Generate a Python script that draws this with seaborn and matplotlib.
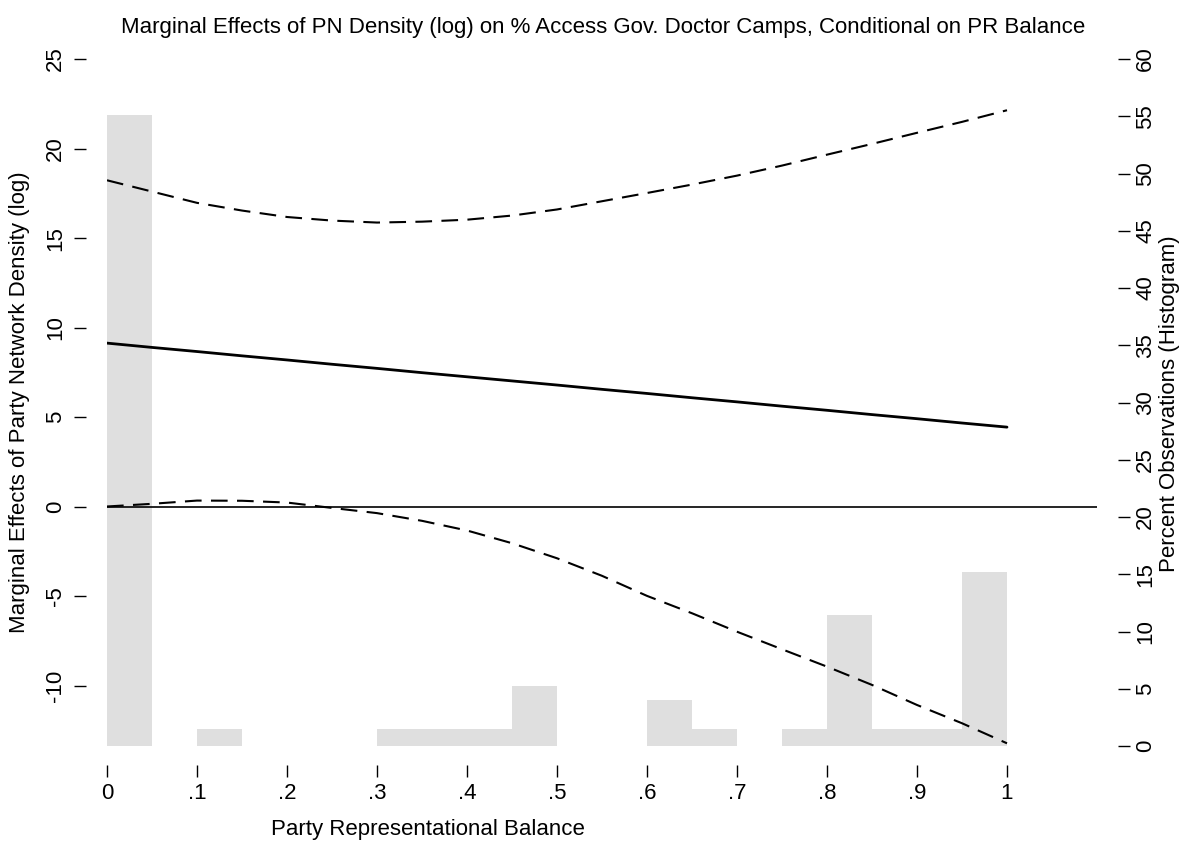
import numpy as np
import pandas as pd
import matplotlib
matplotlib.use("Agg")
import matplotlib.pyplot as plt
import seaborn as sns

# ---- data ----
balance = [0.00, 0.05, 0.10, 0.15, 0.20, 0.25, 0.30, 0.35, 0.40, 0.45, 0.50,
           0.55, 0.60, 0.65, 0.70, 0.75, 0.80, 0.85, 0.90, 0.95, 1.00]
marg_eff = [9.14, 8.90, 8.67, 8.43, 8.20, 7.96, 7.73, 7.49, 7.26, 7.03, 6.80,
            6.56, 6.33, 6.09, 5.86, 5.62, 5.39, 5.15, 4.92, 4.68, 4.45]
upper_ci = [18.23, 17.60, 16.97, 16.54, 16.18, 15.98, 15.87, 15.92, 16.03, 16.26, 16.60,
            17.06, 17.52, 17.99, 18.49, 19.05, 19.66, 20.26, 20.88, 21.49, 22.14]
lower_ci = [0.02, 0.17, 0.35, 0.34, 0.24, -0.06, -0.35, -0.78, -1.32, -2.03, -2.87,
            -3.85, -4.97, -5.94, -6.97, -7.95, -8.92, -9.94, -11.06, -12.08, -13.20]

hist_bin_left = [0.00, 0.10, 0.30, 0.35, 0.40, 0.45, 0.60, 0.65, 0.75, 0.80, 0.85, 0.90, 0.95]
hist_percent = [55.1, 1.5, 1.5, 1.5, 1.5, 5.2, 4.0, 1.5, 1.5, 11.4, 1.5, 1.5, 15.2]

left_ticks = [-10, -5, 0, 5, 10, 15, 20, 25]
right_ticks = [0, 5, 10, 15, 20, 25, 30, 35, 40, 45, 50, 55, 60]
x_ticks = [0, 0.1, 0.2, 0.3, 0.4, 0.5, 0.6, 0.7, 0.8, 0.9, 1.0]
x_ticklabels = ["0", ".1", ".2", ".3", ".4", ".5", ".6", ".7", ".8", ".9", "1"]

title = "Marginal Effects of PN Density (log) on % Access Gov. Doctor Camps, Conditional on PR Balance"
xlabel = "Party Representational Balance"
ylabel_left = "Marginal Effects of Party Network Density (log)"
ylabel_right = "Percent Observations (Histogram)"

# ---- styling ----
sns.set_theme(style="white")
plt.rcParams['font.family'] = ['Liberation Sans', 'DejaVu Sans']
plt.rcParams['text.color'] = 'black'
plt.rcParams['xtick.color'] = 'black'
plt.rcParams['ytick.color'] = 'black'
plt.rcParams['axes.labelcolor'] = 'black'
FS = 16

W, H = 1182, 844
fig = plt.figure(figsize=(W / 100, H / 100), dpi=100)
L, R, B, T = 107, 1097, 746, 59
ax = fig.add_axes([L / W, 1 - B / H, (R - L) / W, (B - T) / H])
ax2 = ax.twinx()

# histogram on the secondary axis (behind)
hist_df = pd.DataFrame({"x": np.array(hist_bin_left) + 0.025, "w": hist_percent})
sns.histplot(data=hist_df, x="x", weights="w", binwidth=0.05, binrange=(0, 1),
             ax=ax2, color="#dfdfdf", alpha=1, edgecolor="none", linewidth=0)

df = pd.DataFrame({"balance": balance, "me": marg_eff, "up": upper_ci, "lo": lower_ci})
sns.lineplot(data=df, x="balance", y="me", ax=ax, color="black", lw=2.0)
sns.lineplot(data=df, x="balance", y="up", ax=ax, color="black", lw=1.5)
sns.lineplot(data=df, x="balance", y="lo", ax=ax, color="black", lw=1.5)
for line in ax.get_lines()[1:]:
    line.set_dashes((8, 4.5))
ax.axhline(0, color="black", lw=1.2)

ax.set_zorder(ax2.get_zorder() + 1)
ax.patch.set_visible(False)

ax.set_xlim(0, 1.1)
ax.set_ylim(-13.35, 25)
ax2.set_ylim(0, 60)

for a in (ax, ax2):
    for s in a.spines.values():
        s.set_visible(False)
ax.spines['left'].set_position(('outward', 15))
ax.spines['bottom'].set_position(('outward', 13.7))
ax2.spines['right'].set_position(('outward', 15))

ax.set_xticks(x_ticks)
ax.set_xticklabels(x_ticklabels, fontsize=FS)
ax.set_yticks(left_ticks)
ax.set_yticklabels([str(t) for t in left_ticks], fontsize=FS, rotation=90, va="center")
ax2.set_yticks(right_ticks)
ax2.set_yticklabels([str(t) for t in right_ticks], fontsize=FS, rotation=90, va="center")

ax.tick_params(axis="both", which="both", direction="out", length=8.6, width=1.0,
               color="black", left=True, bottom=True)
ax.tick_params(axis="y", pad=6)
ax.tick_params(axis="x", pad=4)
ax2.tick_params(axis="y", direction="out", length=8.6, width=1.0, color="black",
                right=True, pad=4)

ax.set_xlabel("")
ax.set_ylabel("")
ax2.set_ylabel("")
ax.grid(False)
ax2.grid(False)

fig.text(603 / W, 1 - 27 / H, title, ha="center", va="center", fontsize=FS)
fig.text(428 / W, 1 - 830 / H, xlabel, ha="center", va="center", fontsize=FS)
fig.text(20 / W, 1 - 402 / H, ylabel_left, ha="center", va="center", rotation=90, fontsize=FS)
fig.text(1170 / W, 1 - 404 / H, ylabel_right, ha="center", va="center", rotation=90, fontsize=FS)

fig.savefig("out.png", dpi=100)
